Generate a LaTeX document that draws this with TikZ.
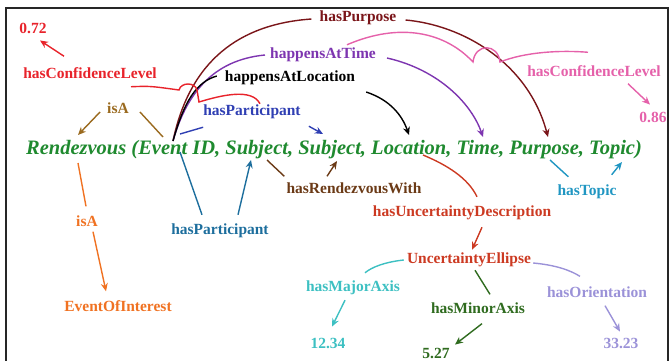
\documentclass[tikz,border=0pt]{standalone}
\usepackage{fontspec}
\setmainfont{Liberation Serif}
\usetikzlibrary{arrows.meta,calc}

\definecolor{cRed}{HTML}{E8232B}
\definecolor{cDarkRed}{HTML}{7A1519}
\definecolor{cPurple}{HTML}{7D35B0}
\definecolor{cBlue}{HTML}{2F3FB3}
\definecolor{cOlive}{HTML}{9A6A1F}
\definecolor{cOrange}{HTML}{F07222}
\definecolor{cSteel}{HTML}{1D6E9D}
\definecolor{cBrown}{HTML}{6B3A16}
\definecolor{cRust}{HTML}{CC3A22}
\definecolor{cCyan}{HTML}{3DC0C2}
\definecolor{cGreenDk}{HTML}{2F6B1F}
\definecolor{cLav}{HTML}{9B92D8}
\definecolor{cTopic}{HTML}{2096C2}
\definecolor{cPink}{HTML}{E561AA}
\definecolor{cGreen}{HTML}{1F8A2F}

\newcommand\lblfont{\fontsize{15.5}{18}\selectfont\bfseries}
\newcommand\rdvfont{\fontsize{20.5}{24}\selectfont\bfseries\itshape}

\begin{document}
\begin{tikzpicture}[x=1pt,y=-1pt,
  lbl/.style={font=\lblfont, inner sep=0pt},
  edge/.style={line width=1.4pt},
  arr/.style={edge, -{Stealth[length=8pt,width=7pt]}},
]
\useasboundingbox (0,0) rectangle (670,360);
\draw[line width=1.5pt, black!85] (6,365) -- (6,8) -- (668,8) -- (668,365);

% the event statement
\node[font=\rdvfont, text=cGreen, inner sep=0pt, anchor=base] (rdv) at (334,154)
  {Rendezvous (Event ID, Subject, Subject, Location, Time, Purpose, Topic)};

% attachment points on the statement
\coordinate (oEv)    at (173,141);
\coordinate (tPurp)  at (548,137);
\coordinate (tTime)  at (483,137);
\coordinate (tLoc)   at (409,135);
\coordinate (tSubjB) at (323,134);
\coordinate (tR)     at (78,135);
\coordinate (tEv)    at (163,137);
\coordinate (pA)     at (180,134);
\coordinate (bR)     at (78,163);
\coordinate (bEv)    at (180,152);
\coordinate (bSubjA) at (251,160);
\coordinate (bSubjC) at (267,160);
\coordinate (bSubjB) at (337,161);
\coordinate (bLoc)   at (423,155);
\coordinate (bPurp)  at (550,160);
\coordinate (bTopic) at (622,162);

% property labels and values
\node[lbl, text=cDarkRed] (pur)  at (358,18)  {hasPurpose};
\node[lbl, text=cPurple]  (hat)  at (323,55)  {happensAtTime};
\node[lbl, text=black]    (hal)  at (290,78)  {happensAtLocation};
\node[lbl, text=cBlue]    (hp1)  at (252,112) {hasParticipant};
\node[lbl, text=cRed]     (hcl1) at (90,73)   {hasConfidenceLevel};
\node[lbl, text=cRed]     (v072) at (33,28)   {0.72};
\node[lbl, text=cOlive]   (isa1) at (118,108) {isA};
\node[lbl, text=cOrange]  (isa2) at (87,221)  {isA};
\node[lbl, text=cOrange]  (eoi)  at (118,306) {EventOfInterest};
\node[lbl, text=cSteel]   (hp2)  at (220,231) {hasParticipant};
\node[lbl, text=cBrown]   (hrw)  at (354,188) {hasRendezvousWith};
\node[lbl, text=cRust]    (hud)  at (462,213) {hasUncertaintyDescription};
\node[lbl, text=cRust]    (ue)   at (469,260) {UncertaintyEllipse};
\node[lbl, text=cCyan]    (hma)  at (353,288) {hasMajorAxis};
\node[lbl, text=cCyan]    (v1234) at (328,343) {12.34};
\node[lbl, text=cGreenDk] (hmi)  at (478,308) {hasMinorAxis};
\node[lbl, text=cGreenDk] (v527) at (436,353) {5.27};
\node[lbl, text=cLav]     (hor)  at (597,292) {hasOrientation};
\node[lbl, text=cLav]     (v3323) at (621,343) {33.23};
\node[lbl, text=cTopic]   (ht)   at (587,192) {hasTopic};
\node[lbl, text=cPink]    (hcl2) at (594,71)  {hasConfidenceLevel};
\node[lbl, text=cPink]    (v086) at (653,117) {0.86};

% hasPurpose
\draw[edge, cDarkRed] (oEv) .. controls (190,60) and (240,24) .. ($(pur.west)+(-8,1)$);
\draw[arr, cDarkRed] ($(pur.east)+(9,2)$) .. controls (462,25) and (528,62) .. (tPurp);

% happensAtTime
\draw[edge, cPurple] (oEv) .. controls (186,95) and (212,60) .. ($(hat.west)+(-5,0)$);
\draw[arr, cPurple] ($(hat.east)+(11,3)$) .. controls (440,70) and (472,105) .. (tTime);

% happensAtLocation
\draw[edge, black] (oEv) .. controls (184,102) and (196,82) .. ($(hal.west)+(-8,-2)$);
\draw[arr, black] ($(hal.east)+(11,14)$) .. controls (390,100) and (402,115) .. (tLoc);

% hasParticipant (upper)
\draw[edge, cBlue] (pA) -- ($(hp1.south west)+(0,8)$);
\draw[arr, cBlue] ($(hp1.south east)+(8,7)$) -- (tSubjB);

% isA (upper)
\draw[arr, cOlive] ($(isa1.west)+(-7,4)$) -- (tR);
\draw[edge, cOlive] ($(isa1.east)+(11,4)$) -- (tEv);

% isA (lower)
\draw[edge, cOrange] (bR) -- ($(isa2.north)+(-1,-9)$);
\draw[arr, cOrange] ($(isa2.south)+(6,5)$) -- ($(eoi.north)+(-12,-9)$);

% hasParticipant (lower)
\draw[edge, cSteel] (bEv) -- ($(hp2.north)+(-18,-9)$);
\draw[arr, cSteel] ($(hp2.north)+(18,-9)$) -- (bSubjA);

% hasRendezvousWith
\draw[edge, cBrown] (bSubjC) -- ($(hrw.north west)+(-2,-6)$);
\draw[arr, cBrown] ($(hrw.north)+(-27,-6)$) -- (bSubjB);

% hasUncertaintyDescription
\draw[edge, cRust] (bLoc) .. controls (447,165) and (468,178) .. ($(hud.north)+(15,-9)$);
\draw[arr, cRust] ($(hud.south)+(20,7)$) -- ($(ue.north)+(3,-3)$);

% ellipse parameters
\draw[edge, cCyan] ($(ue.west)+(-3,0)$) .. controls (385,262) and (372,267) .. ($(hma.north)+(12,-8)$);
\draw[arr, cCyan] ($(hma.south)+(-8,5)$) -- ($(v1234.north)+(4,-11)$);
\draw[edge, cGreenDk] ($(ue.south)+(6,3)$) -- ($(hmi.north)+(12,-8)$);
\draw[arr, cGreenDk] ($(hmi.south)+(4,10)$) -- ($(v527.north)+(19,-3)$);
\draw[edge, cLav] ($(ue.east)+(2,3)$) .. controls (555,265) and (570,270) .. ($(hor.north)+(-17,-10)$);
\draw[arr, cLav] ($(hor.south)+(8,8)$) -- ($(v3323.north)+(-1,-6)$);

% hasTopic
\draw[edge, cTopic] (bPurp) -- ($(ht.north west)+(11,-8)$);
\draw[arr, cTopic] ($(ht.north east)+(-5,-10)$) -- (bTopic);

% confidence on happensAtTime, jumping over hasPurpose
\draw[arr, cPink] ($(hcl2.south)+(34,7)$) -- ($(v086.north)+(-3,-7)$);
\draw[edge, cPink] ($(hcl2.north)+(-6,-13)$) .. controls (560,50) and (525,52) .. (500,62)
  .. controls (498,43) and (475,43) .. (473,62)
  .. controls (445,32) and (400,22) .. ($(hat.north west)+(77,-3)$);

% confidence on hasParticipant, jumping over the curves from the event
\draw[arr, cRed] ($(hcl1.north west)+(41,-11)$) -- ($(v072.south)+(7,7)$);
\draw[edge, cRed] ($(hcl1.south)+(41,8)$) .. controls (150,86) .. (179,90)
  .. controls (181,82) and (195,82) .. (197,90) -- (199,102)
  .. controls (222,95) and (252,88) .. ($(hp1.north)+(8,-1)$);
\end{tikzpicture}
\end{document}
